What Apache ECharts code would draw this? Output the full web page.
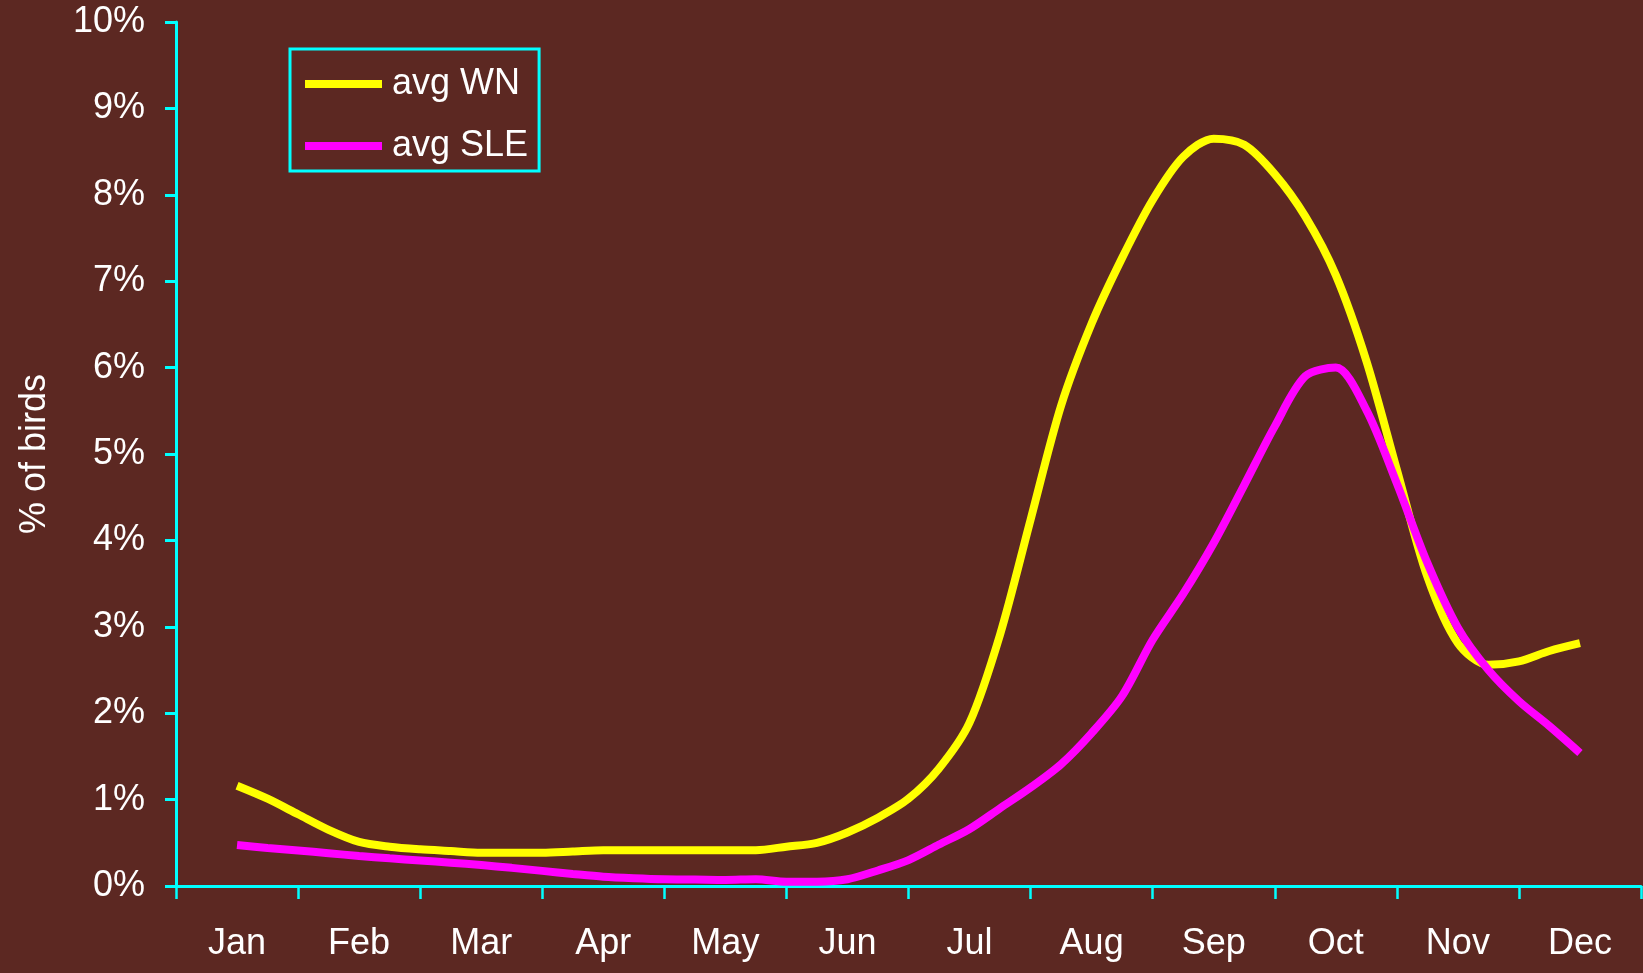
<!DOCTYPE html>
<html>
<head>
<meta charset="utf-8">
<title>% of birds</title>
<script src="https://cdn.jsdelivr.net/npm/echarts@6/dist/echarts.min.js"></script>
<style>
	html, body { margin: 0; padding: 0; background: #5c2822; }
	#echart { width: 1643px; height: 973px; }
</style>
</head>
<body>
<div id="echart"></div>
<script>
// --- data ------------------------------------------------------------
var months = ['Jan', 'Feb', 'Mar', 'Apr', 'May', 'Jun', 'Jul', 'Aug', 'Sep', 'Oct', 'Nov', 'Dec'];
var seriesNames = ['avg WN', 'avg SLE'];

// 4 readings per month, from mid-Jan to mid-Dec (45 points), in %
var avgWN = [
	1.16, 1.01, 0.83, 0.65, 0.51, 0.455, 0.425, 0.405, 0.385, 0.385, 0.385, 0.40,
	0.415, 0.415, 0.415, 0.415, 0.415, 0.415, 0.455, 0.50, 0.62, 0.79, 1.01, 1.36,
	1.89, 2.91, 4.24, 5.56, 6.51, 7.27, 7.94, 8.44, 8.65, 8.58, 8.24, 7.75,
	7.07, 6.08, 4.82, 3.58, 2.81, 2.56, 2.60, 2.72, 2.81
];
var avgSLE = [
	0.475, 0.44, 0.41, 0.38, 0.347, 0.32, 0.295, 0.27, 0.243, 0.21, 0.175, 0.14,
	0.108, 0.09, 0.078, 0.075, 0.07, 0.078, 0.05, 0.05, 0.078, 0.18, 0.30, 0.48,
	0.66, 0.90, 1.14, 1.41, 1.77, 2.2, 2.85, 3.38, 3.97, 4.64, 5.32, 5.9,
	6.0, 5.51, 4.66, 3.74, 2.99, 2.50, 2.14, 1.85, 1.54
];
var readingsPerMonth = 4;

// place reading i on a month scale (0 = start of Jan, 12 = end of Dec)
function toPoints(values){
	var pts = [];
	for(var i = 0; i < values.length; i++){
		pts.push([0.5 + i / readingsPerMonth, values[i]]);
	}
	return pts;
}

// --- chart -----------------------------------------------------------
var font = 'Liberation Sans, Arial, sans-serif';
var cyan = '#00ffff';

var eChart = echarts.init(document.getElementById('echart'));

var eChartOption = {
	backgroundColor: '#5c2822',
	animation: false,
	grid: {
		left: 176,
		right: 2,
		top: 22,
		bottom: 87
	},
	legend: {
		orient: 'vertical',
		left: 290,
		top: 49,
		padding: [17, 11, 7, 15],
		borderColor: cyan,
		borderWidth: 3,
		icon: 'rect',
		itemWidth: 77,
		itemHeight: 8,
		itemGap: 26,
		textStyle: {
			color: '#ffffff',
			fontSize: 36,
			fontFamily: font,
			padding: [0, 0, 0, 5]
		},
		data: seriesNames
	},
	xAxis: [
		{
			type: 'category',
			data: months,
			boundaryGap: true,
			axisLine: { show: true, lineStyle: { color: cyan, width: 3 } },
			axisTick: { show: true, interval: 0, length: 13, lineStyle: { color: cyan, width: 2.5 } },
			axisLabel: { interval: 0, margin: 40, color: '#ffffff', fontSize: 36, fontFamily: font },
			splitLine: { show: false }
		},
		{
			type: 'value',
			min: 0,
			max: 12,
			show: false
		}
	],
	yAxis: {
		type: 'value',
		min: 0,
		max: 10,
		interval: 1,
		name: '% of birds',
		nameLocation: 'middle',
		nameRotate: 90,
		nameGap: 123,
		nameTextStyle: { color: '#ffffff', fontSize: 36, fontFamily: font },
		axisLine: { show: true, lineStyle: { color: cyan, width: 3 } },
		axisTick: { show: true, length: 11, lineStyle: { color: cyan, width: 3 } },
		axisLabel: { margin: 31, padding: [6, 0, 0, 0], color: '#ffffff', fontSize: 36, fontFamily: font, formatter: '{value}%' },
		splitLine: { show: false }
	},
	series: [
		{
			name: seriesNames[0],
			type: 'line',
			xAxisIndex: 1,
			data: toPoints(avgWN),
			smooth: 0.3,
			showSymbol: false,
			symbol: 'none',
			lineStyle: { color: '#ffff00', width: 8 },
			itemStyle: { color: '#ffff00' }
		},
		{
			name: seriesNames[1],
			type: 'line',
			xAxisIndex: 1,
			data: toPoints(avgSLE),
			smooth: 0.3,
			showSymbol: false,
			symbol: 'none',
			lineStyle: { color: '#ff00ff', width: 8 },
			itemStyle: { color: '#ff00ff' }
		}
	]
};

eChart.setOption(eChartOption);
</script>
</body>
</html>
